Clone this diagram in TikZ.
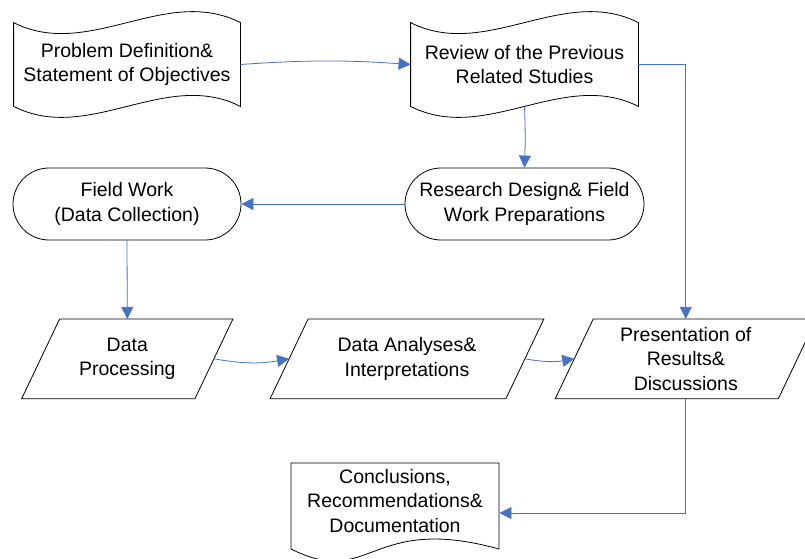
\documentclass[tikz,border=0pt]{standalone}
\usepackage{fontspec}
\setmainfont{Liberation Sans}
\usetikzlibrary{arrows.meta}
\definecolor{flowblue}{RGB}{68,114,196}

\begin{document}
\begin{tikzpicture}[x=1pt,y=1pt,line width=0.8pt,
	box/.style={align=center,inner sep=0pt,font=\fontsize{19.5}{24.5}\selectfont},
	tape/.style={box,minimum width=226pt,minimum height=83pt},
	terminal/.style={box,draw,rounded corners=36pt,minimum height=72pt},
	slanted/.style={box,minimum height=79pt},
	flow/.style={draw=flowblue,-{Triangle[length=12pt,width=12pt]}}]
	% page
		\useasboundingbox (0,0) rectangle (805,-558);
		\clip (0,0) rectangle (805,-558);
	% first row
		\node[tape] (prob) at (127,-64.5) {Problem Definition\&\\Statement of Objectives};
		\draw (prob.north west) .. controls +(75,-38) and +(-75,38) .. (prob.north east) -- (prob.south east) .. controls +(-75,38) and +(75,-38) .. (prob.south west) -- cycle;
		\node[tape,minimum width=227pt] (rev) at (524.5,-64.5) {Review of the Previous\\Related Studies};
		\draw (rev.north west) .. controls +(75,-38) and +(-75,38) .. (rev.north east) -- (rev.south east) .. controls +(-75,38) and +(75,-38) .. (rev.south west) -- cycle;
	% second row
		\node[terminal,minimum width=228pt] (field) at (127,-204) {Field Work\\(Data Collection)};
		\node[terminal,minimum width=239pt] (design) at (524.5,-204) {Research Design\& Field\\Work Preparations};
	% third row
		\node[slanted,minimum width=172.5pt] (proc) at (127.3,-358.8) {Data\\Processing};
		\draw ([xshift=19pt]proc.north west) -- ([xshift=19pt]proc.north east) -- ([xshift=-19pt]proc.south east) -- ([xshift=-19pt]proc.south west) -- cycle;
		\node[slanted,minimum width=235pt] (anal) at (407,-358.8) {Data Analyses\&\\Interpretations};
		\draw ([xshift=19pt]anal.north west) -- ([xshift=19pt]anal.north east) -- ([xshift=-19pt]anal.south east) -- ([xshift=-19pt]anal.south west) -- cycle;
		\node[slanted,minimum width=222.3pt] (pres) at (685.8,-358.8) {Presentation of\\Results\&\\Discussions};
		\draw ([xshift=19pt]pres.north west) -- ([xshift=19pt]pres.north east) -- ([xshift=-19pt]pres.south east) -- ([xshift=-19pt]pres.south west) -- cycle;
	% document at the bottom
		\node[box,minimum width=208pt] (concl) at (395,-501) {Conclusions,\\Recommendations\&\\Documentation};
		\draw (291,-549) -- (291,-463) -- (499,-463) -- (499,-549) .. controls +(-130,36) and +(80,-40) .. (291,-549);
	% connectors
		\draw[flow] (prob.east) to[bend left=4] (rev.west);
		\draw[flow] (rev.south) to[bend left=2] (design.north);
		\draw[flow] (design.west) -- (field.east);
		\draw[flow] (rev.east) -| (pres.north);
		\draw[flow] (field.south) -- (proc.north);
		\draw[flow] (proc.east) to[bend right=10] (anal.west);
		\draw[flow] (anal.east) to[bend right=10] (pres.west);
		\draw[flow] (pres.south) |- ([yshift=-12pt]concl.east);
\end{tikzpicture}
\end{document}
